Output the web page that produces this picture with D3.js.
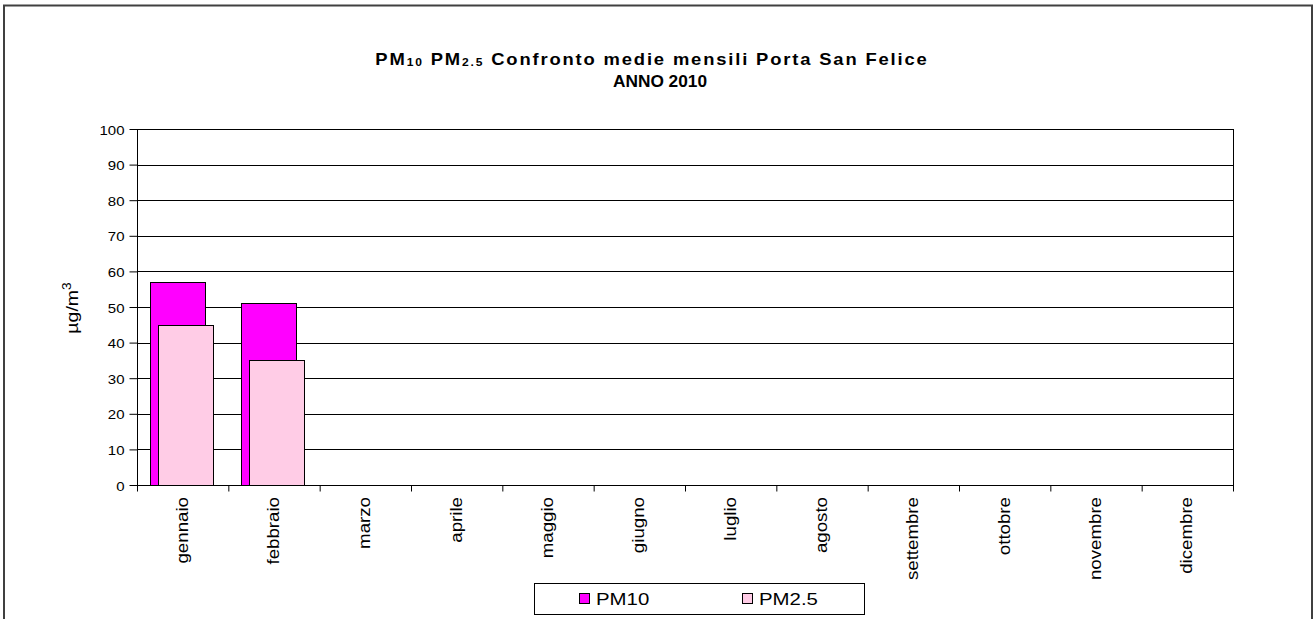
<!DOCTYPE html>
<html><head><meta charset="utf-8">
<script src="https://cdn.jsdelivr.net/npm/d3@7"></script>
<style>
html,body{margin:0;padding:0;background:#fff;}
svg{display:block;font-family:"Liberation Sans",Arial,sans-serif;}
</style></head>
<body>
<svg id="chart" width="1316" height="619"></svg>
<script>
const months = ["gennaio","febbraio","marzo","aprile","maggio","giugno","luglio","agosto","settembre","ottobre","novembre","dicembre"];
const pm10 = [57, 51, null, null, null, null, null, null, null, null, null, null];
const pm25 = [45, 35, null, null, null, null, null, null, null, null, null, null];
const yTicks = [0,10,20,30,40,50,60,70,80,90,100];
const seriesNames = ["PM10","PM2.5"];
const seriesColors = ["#FF00FF","#FFCCE6"];

(function(){
const svg = d3.select("#chart");
svg.append("rect").attr("width",1316).attr("height",619).attr("fill","#fff");
svg.append("rect").attr("x",4).attr("y",5.5).attr("width",1308).attr("height",700)
  .attr("fill","none").attr("stroke","#404040").attr("stroke-width",2);

const pL=137, pR=1233, pT=129, pB=485;
const x = d3.scaleBand().domain(months).range([pL,pR]).padding(0);
const y = d3.scaleLinear().domain([0,100]).range([pB,pT]);

svg.append("g").selectAll("line").data(yTicks.filter(d=>d>0)).join("line")
  .attr("x1",pL).attr("x2",pR).attr("y1",d=>Math.round(y(d))+0.5).attr("y2",d=>Math.round(y(d))+0.5)
  .attr("stroke","#000").attr("stroke-width",1);
svg.append("line").attr("x1",pR+0.5).attr("x2",pR+0.5).attr("y1",pT).attr("y2",pB)
  .attr("stroke","#000");

const bw = x.bandwidth();
const barW = bw*0.6, shift = bw*0.088, start = bw*0.143;
[pm10, pm25].forEach((vals,si)=>{
  svg.append("g").selectAll("rect").data(months.map((m,i)=>({m,v:vals[i]})).filter(d=>d.v!=null)).join("rect")
    .attr("x",d=>Math.round(x(d.m)+start+si*shift)+0.5)
    .attr("y",d=>Math.round(y(d.v))+0.5)
    .attr("width",Math.round(barW))
    .attr("height",d=>Math.round(y(0))-Math.round(y(d.v)))
    .attr("fill",seriesColors[si]).attr("stroke","#000").attr("stroke-width",1);
});

const yAxis = d3.axisLeft(y).tickValues(yTicks).tickSize(8).tickFormat("");
const gy = svg.append("g").attr("transform",`translate(${pL+0.5},0)`).call(yAxis);
gy.select(".domain").attr("stroke","#000").attr("d",`M0,${pT}V${pB+0.5}`);
gy.selectAll(".tick line").attr("stroke","#000");
gy.selectAll(".tick").append("text")
  .attr("transform","translate(-13,5) scale(1.2,1)")
  .attr("text-anchor","end").attr("font-size",12.5).attr("fill","#000")
  .text(d=>d);

const xAxis = d3.axisBottom(d3.scaleLinear().domain([0,12]).range([pL,pR])).tickValues(d3.range(13)).tickSize(6).tickFormat("");
const gx = svg.append("g").attr("transform",`translate(0,${pB+0.5})`).call(xAxis);
gx.select(".domain").attr("stroke","#000").attr("d",`M${pL},0H${pR+1}`);
gx.selectAll(".tick line").attr("stroke","#000");
svg.append("g").selectAll("text").data(months).join("text")
  .attr("transform",d=>`translate(${x(d)+bw/2+5},497) rotate(-90) scale(1.1,1)`)
  .attr("text-anchor","end").attr("font-size",17).attr("fill","#000")
  .text(d=>d);

const yt = svg.append("text").attr("transform","translate(78,308) rotate(-90) scale(1.15,1)")
  .attr("text-anchor","middle").attr("font-size",17).attr("fill","#000");
yt.append("tspan").text("µg/m");
yt.append("tspan").attr("font-size",12).attr("dy",-7).text("3");

const t1 = svg.append("text").attr("transform","translate(652,65) scale(1.15,1)")
  .attr("text-anchor","middle").attr("font-size",16).attr("font-weight","bold")
  .attr("letter-spacing",1.6).attr("fill","#000");
t1.append("tspan").text("PM");
t1.append("tspan").attr("font-size",10.5).attr("dy",1).text("10");
t1.append("tspan").attr("dy",-1).text(" PM");
t1.append("tspan").attr("font-size",10.5).attr("dy",1).text("2.5");
t1.append("tspan").attr("dy",-1).text(" Confronto medie mensili Porta San Felice");
svg.append("text").attr("transform","translate(660,87) scale(1.08,1)")
  .attr("text-anchor","middle").attr("font-size",16).attr("font-weight","bold").attr("fill","#000")
  .text("ANNO 2010");

const lg = svg.append("g");
lg.append("rect").attr("x",534.5).attr("y",583.5).attr("width",330).attr("height",31)
  .attr("fill","#fff").attr("stroke","#000");
const legX = [579, 742];
seriesNames.forEach((n,i)=>{
  lg.append("rect").attr("x",legX[i]+0.5).attr("y",593.5).attr("width",10).attr("height",10)
    .attr("fill",seriesColors[i]).attr("stroke","#000");
  lg.append("text").attr("transform",`translate(${legX[i]+17},605) scale(1.2,1)`)
    .attr("font-size",17).attr("fill","#000").text(n);
});
})();
</script>
</body></html>
